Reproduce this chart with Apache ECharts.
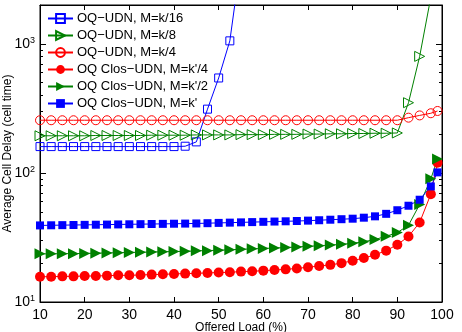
<!DOCTYPE html>
<html>
<head>
<meta charset="utf-8">
<script src="https://cdn.jsdelivr.net/npm/echarts@6/dist/echarts.min.js"></script>
<style>
  html, body { margin: 0; padding: 0; background: #fff; }
  #chart { width: 462px; height: 332px; }
</style>
</head>
<body>
<div id="chart"></div>
<script>
// offered load (%) where the simulation was sampled
const loads = [10, 12.5, 15, 17.5, 20, 22.5, 25, 27.5, 30, 32.5, 35, 37.5, 40, 42.5, 45, 47.5,
  50, 52.5, 55, 57.5, 60, 62.5, 65, 67.5, 70, 72.5, 75, 77.5, 80, 82.5, 85, 87.5, 90, 92.5, 95, 97.5, 99]

// average cell delay (cell time), null = off the chart
const oqK16 = [160, 160, 160, 160, 160, 160, 160, 160, 160, 160, 160, 160, 160, 161, 174, 312,
  544, 1055, 4500, null, null, null, null, null, null, null, null, null, null, null, null, null,
  null, null, null, null, null]
const oqK8 = [194, 194, 194, 194, 194, 195, 195, 195, 195, 195, 196, 196, 196, 196, 197, 197,
  197, 197, 198, 198, 198, 199, 199, 199, 200, 200, 201, 201, 202, 202, 203, 203, 204, 350, 800, 2300, 5000]
const oqK4 = [256, 256, 256, 256, 256, 256, 256, 256, 256, 256, 256, 256, 256, 256, 256, 256,
  256, 256, 256, 256, 256, 256, 256, 256, 256, 256, 256, 256, 256, 256, 256, 256, 256, 268, 279, 290, 302]
const closK4 = [15.7, 15.7, 15.8, 15.8, 15.9, 15.9, 16.0, 16.1, 16.1, 16.2, 16.3, 16.4, 16.5, 16.6,
  16.7, 16.8, 16.9, 17.0, 17.2, 17.3, 17.5, 17.7, 17.9, 18.2, 18.6, 19.0, 19.4, 20.0, 20.9, 21.9,
  23.2, 25.0, 27.8, 32.2, 41.3, 68.5, 120]
const closK2 = [23.6, 23.6, 23.7, 23.7, 23.8, 23.9, 24.0, 24.1, 24.2, 24.3, 24.4, 24.5, 24.6, 24.7,
  24.9, 25.0, 25.2, 25.4, 25.6, 25.8, 26.0, 26.2, 26.4, 26.7, 27.0, 27.3, 27.6, 28.0, 28.5, 29.3,
  30.5, 32.3, 34.5, 39.3, 57, 90, 128]
const closK1 = [39.2, 39.3, 39.4, 39.5, 39.6, 39.7, 39.8, 39.9, 40.0, 40.1, 40.2, 40.3, 40.4, 40.5,
  40.6, 40.8, 41.0, 41.2, 41.4, 41.6, 41.8, 42.0, 42.2, 42.4, 42.7, 43.0, 43.4, 43.8, 44.2, 45.0,
  46.1, 48.2, 51.4, 55.7, 62, 78.6, 101]

const xTicks = [10, 20, 30, 40, 50, 60, 70, 80, 90, 100]
const yMin = 10
const yMax = 2000
// minor log ticks (2..9 x each decade), placed on a helper axis in log10 space
const minorTicks = []
for (const d of [10, 100]) {
  for (let k = 2; k <= 9; k++) minorTicks.push(Math.log10(k * d))
}

const font = 'Liberation Sans, Arial, Helvetica, sans-serif'

function series(name, values, color, symbol, size, hollow, rotate) {
  return {
    name: name,
    type: 'line',
    data: loads.map((x, i) => [x, values[i]]),
    symbol: symbol,
    symbolSize: size,
    symbolRotate: rotate || 0,
    showAllSymbol: true,
    clip: true,
    lineStyle: { color: color, width: 1 },
    itemStyle: hollow
      ? { color: 'rgba(255,255,255,0)', borderColor: color, borderWidth: 1 }
      : { color: color, borderColor: color, borderWidth: 0 },
    emphasis: { disabled: true }
  }
}

function logLabel(v) {
  const e = Math.round(Math.log10(v))
  if (Math.abs(Math.pow(10, e) - v) > 1e-6 * v) return ''
  return '{b|10}{sup|' + e + '}'
}

const myChart = echarts.init(document.getElementById('chart'))
myChart.setOption({
  animation: false,
  textStyle: { fontFamily: font },
  grid: {
    left: 40, right: 20, top: 5, bottom: 30,
    outerBoundsMode: 'none',
    containLabel: false,
    show: true,
    borderColor: '#000',
    borderWidth: 1,
    backgroundColor: 'transparent'
  },
  legend: {
    orient: 'vertical',
    left: 47,
    top: 12,
    padding: 0,
    itemWidth: 25,
    itemHeight: 11,
    itemGap: 4,
    textStyle: { fontFamily: font, fontSize: 13, color: '#000', padding: [0, 0, 0, -1] },
    data: ['OQ−UDN, M=k/16', 'OQ−UDN, M=k/8', 'OQ−UDN, M=k/4',
      "OQ Clos−UDN, M=k'/4", "OQ Clos−UDN, M=k'/2", "OQ Clos−UDN, M=k'"]
  },
  xAxis: [{
    type: 'value',
    min: xTicks[0],
    max: xTicks[xTicks.length - 1],
    interval: 10,
    position: 'bottom',
    axisLine: { show: true, lineStyle: { color: '#000', width: 1 } },
    axisTick: { inside: true, length: 5, lineStyle: { color: '#000' } },
    axisLabel: { fontSize: 14, color: '#000', margin: 6, fontFamily: font },
    splitLine: { show: false },
    name: 'Offered Load (%)',
    nameLocation: 'middle',
    nameGap: 20,
    nameMoveOverlap: false,
    nameTextStyle: { fontSize: 12, color: '#000', fontFamily: font }
  }, {
    type: 'value',
    min: xTicks[0],
    max: xTicks[xTicks.length - 1],
    interval: 10,
    position: 'top',
    axisLine: { show: true, lineStyle: { color: '#000', width: 1 } },
    axisTick: { inside: true, length: 5, lineStyle: { color: '#000' } },
    axisLabel: { show: false },
    splitLine: { show: false }
  }],
  yAxis: [{
    type: 'log',
    logBase: 10,
    min: yMin,
    max: yMax,
    position: 'left',
    axisLine: { show: true, lineStyle: { color: '#000', width: 1 } },
    axisTick: { inside: true, length: 6, lineStyle: { color: '#000' } },
    axisLabel: {
      formatter: logLabel,
      margin: 5,
      color: '#000',
      rich: {
        b: { fontSize: 14, fontFamily: font, color: '#000' },
        sup: { fontSize: 9, fontFamily: font, color: '#000', verticalAlign: 'top', padding: [0, 0, 7, 0] }
      }
    },
    splitLine: { show: false },
    name: 'Average Cell Delay (cell time)',
    nameLocation: 'middle',
    nameGap: 26,
    nameMoveOverlap: false,
    nameTextStyle: { fontSize: 12, color: '#000', fontFamily: font }
  }, {
    type: 'log',
    logBase: 10,
    min: yMin,
    max: yMax,
    position: 'right',
    axisLine: { show: true, lineStyle: { color: '#000', width: 1 } },
    axisTick: { inside: true, length: 6, lineStyle: { color: '#000' } },
    axisLabel: { show: false },
    splitLine: { show: false }
  }, {
    type: 'value',
    min: Math.log10(yMin),
    max: Math.log10(yMax),
    position: 'left',
    axisLine: { show: false },
    axisTick: { inside: true, length: 3, customValues: minorTicks, lineStyle: { color: '#000' } },
    axisLabel: { show: false },
    splitLine: { show: false }
  }, {
    type: 'value',
    min: Math.log10(yMin),
    max: Math.log10(yMax),
    position: 'right',
    axisLine: { show: false },
    axisTick: { inside: true, length: 3, customValues: minorTicks, lineStyle: { color: '#000' } },
    axisLabel: { show: false },
    splitLine: { show: false }
  }],
  series: [
    series('OQ−UDN, M=k/16', oqK16, '#0000ff', 'rect', 8, true),
    series('OQ−UDN, M=k/8', oqK8, '#008000', 'triangle', 10, true, -90),
    series('OQ−UDN, M=k/4', oqK4, '#ff0000', 'circle', 9, true),
    series("OQ Clos−UDN, M=k'/4", closK4, '#ff0000', 'circle', 10, false),
    series("OQ Clos−UDN, M=k'/2", closK2, '#008000', 'triangle', 11, false, -90),
    series("OQ Clos−UDN, M=k'", closK1, '#0000ff', 'rect', 8, false)
  ]
})
</script>
</body>
</html>
